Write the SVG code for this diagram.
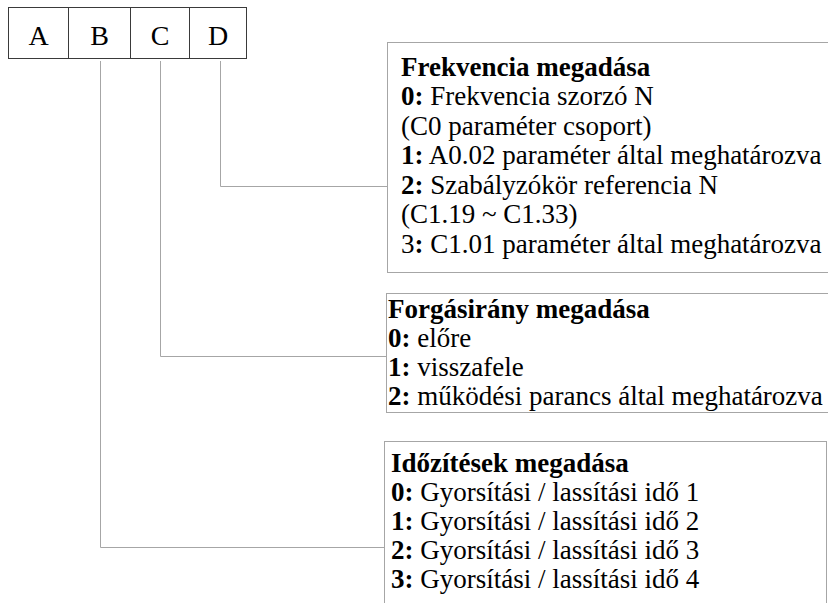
<svg xmlns="http://www.w3.org/2000/svg" width="828" height="603" viewBox="0 0 828 603">
  <style>
    .t { font-family: 'Liberation Serif', 'DejaVu Serif', 'Noto Serif', serif; font-size: 27px; fill: #000; }
    .cell { font-size: 28px; }
    .b { font-weight: bold; }
    .key { fill: none; stroke: #3a3a3a; stroke-width: 1; }
    .panel { fill: #fff; stroke: #a6a6a6; stroke-width: 1; }
    .wire { fill: none; stroke: #a6a6a6; stroke-width: 1; }
  </style>

  <!-- code field: four character cells -->
  <g id="code" class="t">
    <rect class="key" x="8.5" y="7.5" width="238" height="51"/>
    <line class="key" x1="68.5" y1="7.5" x2="68.5" y2="58.5"/>
    <line class="key" x1="130.5" y1="7.5" x2="130.5" y2="58.5"/>
    <line class="key" x1="189.5" y1="7.5" x2="189.5" y2="58.5"/>
    <text class="cell" x="38.5" y="45" text-anchor="middle">A</text>
    <text class="cell" x="99.5" y="45" text-anchor="middle">B</text>
    <text class="cell" x="160" y="45" text-anchor="middle">C</text>
    <text class="cell" x="218" y="45" text-anchor="middle">D</text>
  </g>

  <!-- leader lines from the cells to their panels -->
  <g id="connectors">
    <polyline class="wire" points="220.5,61 220.5,186.5 387,186.5"/>
    <polyline class="wire" points="160.5,61 160.5,356.5 386,356.5"/>
    <polyline class="wire" points="100.5,61 100.5,547.5 384,547.5"/>
  </g>

  <!-- D: frequency source -->
  <g id="frekvencia" class="t">
    <rect class="panel" x="387.5" y="42.5" width="450" height="230"/>
    <text x="401" y="75.5" class="b">Frekvencia megadása</text>
    <text x="401" y="105"><tspan class="b">0:</tspan> Frekvencia szorzó N</text>
    <text x="401" y="134.5">(C0 paraméter csoport)</text>
    <text x="401" y="164"><tspan class="b">1:</tspan> A0.02 paraméter által meghatározva</text>
    <text x="401" y="193.5"><tspan class="b">2:</tspan> Szabályzókör referencia N</text>
    <text x="401" y="223">(C1.19 ~ C1.33)</text>
    <text x="401" y="252.5">3<tspan class="b">:</tspan> C1.01 paraméter által meghatározva</text>
  </g>

  <!-- C: direction of rotation -->
  <g id="forgasirany" class="t">
    <rect class="panel" x="386.5" y="293.5" width="450" height="119"/>
    <text x="388" y="317.5" class="b">Forgásirány megadása</text>
    <text x="388" y="346.5"><tspan class="b">0:</tspan> előre</text>
    <text x="388" y="375.5"><tspan class="b">1:</tspan> visszafele</text>
    <text x="388" y="404.5"><tspan class="b">2:</tspan> működési parancs által meghatározva</text>
  </g>

  <!-- B: ramp times -->
  <g id="idozitesek" class="t">
    <rect class="panel" x="384.5" y="441.5" width="442" height="180"/>
    <text x="391" y="471.5" class="b">Időzítések megadása</text>
    <text x="391" y="500.5"><tspan class="b">0:</tspan> Gyorsítási / lassítási idő 1</text>
    <text x="391" y="529.5"><tspan class="b">1:</tspan> Gyorsítási / lassítási idő 2</text>
    <text x="391" y="558.5"><tspan class="b">2:</tspan> Gyorsítási / lassítási idő 3</text>
    <text x="391" y="587.5"><tspan class="b">3:</tspan> Gyorsítási / lassítási idő 4</text>
  </g>
</svg>
